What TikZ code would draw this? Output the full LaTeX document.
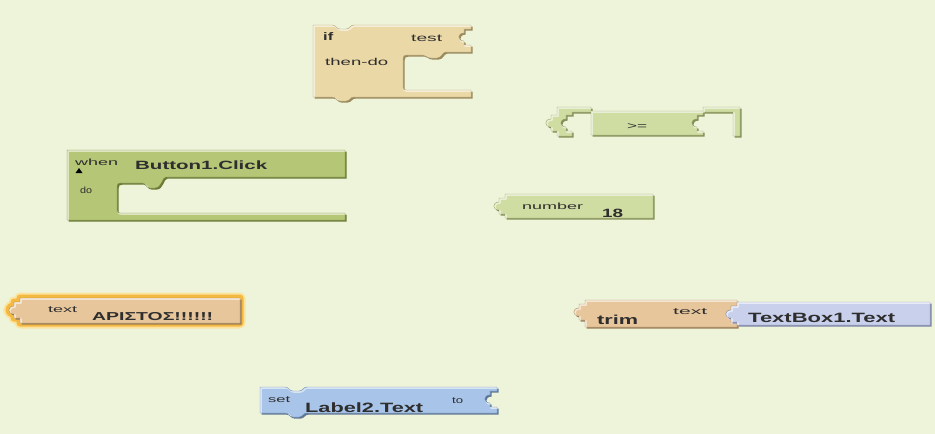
\documentclass[tikz,border=0pt]{standalone}
\usepackage{graphicx}
\usepackage{fontspec}
\setmainfont{Liberation Sans}

% block colours
\definecolor{canvas}{HTML}{EEF4DA}
\definecolor{ctrlfill}{HTML}{EBD8A7}
\definecolor{ctrldark}{HTML}{9A8A5D}
\definecolor{evfill}{HTML}{B5C676}
\definecolor{evdark}{HTML}{6B7A35}
\definecolor{mathfill}{HTML}{CFDCA2}
\definecolor{mathdark}{HTML}{838F55}
\definecolor{txtfill}{HTML}{E8C69C}
\definecolor{txtdark}{HTML}{9B7D55}
\definecolor{propfill}{HTML}{C9D0EC}
\definecolor{propdark}{HTML}{7C84A6}
\definecolor{setfill}{HTML}{A8C4E8}
\definecolor{setdark}{HTML}{5F7898}
\definecolor{glowin}{HTML}{F4B941}
\definecolor{glowout}{HTML}{FBE3A0}
\definecolor{labeltext}{HTML}{2E2E2E}

% text stretched horizontally to a given width: width, size, text
\newcommand\wtext[3]{\resizebox{#1pt}{\height}{\fontsize{#2}{#2}\selectfont #3}}

% a bevelled block: outline path, fill colour, edge colour
\newcommand\drawblock[3]{%
  \fill[#3, shift={(1.6,1.6)}] #1;
  \fill[#2] #1;
  \begin{scope}
    \clip #1;
    \draw[white, opacity=0.55, line width=1.6pt, shift={(1,1)}] #1;
  \end{scope}
  \draw[#3, line width=0.4pt, opacity=0.7] #1;
}

\tikzset{
  lbl/.style={anchor=base west, inner sep=0pt, text=labeltext},
}

\begin{document}
\begin{tikzpicture}[x=1pt, y=-1pt, line join=round]
\useasboundingbox (0,0) rectangle (935,434);
\fill[canvas] (0,0) rectangle (935,434);

% ---- if / then-do
\drawblock{(313,25) -- (332,25) .. controls (336,25) and (336,29) .. (340,29) -- (346,29) .. controls (350,29) and (350,25) .. (354,25)
  -- (471,25) -- (471,29) -- (464,29) -- (464,33) .. controls (457,33) and (457,41) .. (464,41) -- (464,45) -- (471,45)
  -- (471,52) -- (446,52) .. controls (442,52) and (442,58) .. (437,58) -- (431,58) .. controls (427,58) and (426,55) .. (423,55)
  -- (407,55) .. controls (404,55) and (403,56) .. (403,59) -- (403,87) .. controls (403,89) and (404,90) .. (406,90)
  -- (471,90) -- (471,97) -- (354,97) .. controls (350,97) and (350,101) .. (346,101) -- (340,101) .. controls (336,101) and (336,97) .. (332,97)
  -- (313,97) -- cycle}{ctrlfill}{ctrldark}
\node[lbl] (kif) at (323,40) {\wtext{10}{11}{\bfseries if}};
\node[lbl] (ktest) at (411,41) {\wtext{31}{10}{test}};
\node[lbl] (kthen) at (325,65) {\wtext{63}{10}{then-do}};

% ---- comparison >=
\drawblock{(557,107) -- (591,107) -- (591,111) -- (703,111) -- (703,107) -- (740,107) -- (740,136) -- (733,136) -- (733,112)
  -- (703,112) -- (703,115) -- (697,115) -- (697,119) .. controls (690,119) and (690,127) .. (697,127) -- (697,131) -- (703,131)
  -- (703,135) -- (591,135) -- (591,112) -- (572,112) -- (572,115) -- (566,115) -- (566,119) .. controls (559,119) and (559,127) .. (566,127)
  -- (566,131) -- (572,131) -- (572,136) -- (557,136) -- (557,131) -- (551,131) -- (551,127) .. controls (544,127) and (544,119) .. (551,119)
  -- (551,115) -- (557,115) -- cycle}{mathfill}{mathdark}
\node[lbl] (kge) at (627,129) {\wtext{20}{10}{>=}};

% ---- when Button1.Click do
\drawblock{(67,150) -- (345,150) -- (345,177) -- (166,177) .. controls (162,177) and (162,188) .. (155,188) -- (150,188)
  .. controls (146,188) and (146,183) .. (142,183) -- (121,183) .. controls (118,183) and (117,184) .. (117,187) -- (117,210)
  .. controls (117,212) and (118,213) .. (120,213) -- (345,213) -- (345,220) -- (67,220) -- cycle}{evfill}{evdark}
\node[lbl] (kwhen) at (75,165) {\wtext{43}{9}{when}};
\fill[black] (75.5,173) -- (82.5,173) -- (79,168) -- cycle;
\node[lbl] (kbtn) at (135,169) {\wtext{132}{12}{\bfseries Button1.Click}};
\node[lbl] (kdo) at (80,193) {\wtext{12}{9}{do}};

% ---- number 18
\drawblock{(505,194) -- (653,194) -- (653,218) -- (505,218) -- (505,214) -- (499,214) -- (499,210) .. controls (492,210) and (492,202) .. (499,202)
  -- (499,198) -- (505,198) -- cycle}{mathfill}{mathdark}
\node[lbl] (knum) at (522,209) {\wtext{61}{9}{number}};
\node[lbl] (k18) at (602,217) {\wtext{21}{12}{\bfseries 18}};

% ---- selected text block (highlighted)
\draw[glowout, line width=11pt] (20,298) -- (240,298) -- (240,323) -- (20,323) -- (20,318) -- (14,318) -- (14,314) .. controls (7,314) and (7,306) .. (14,306) -- (14,302) -- (20,302) -- cycle;
\draw[glowin, line width=7pt] (20,298) -- (240,298) -- (240,323) -- (20,323) -- (20,318) -- (14,318) -- (14,314) .. controls (7,314) and (7,306) .. (14,306) -- (14,302) -- (20,302) -- cycle;
\drawblock{(20,298) -- (240,298) -- (240,323) -- (20,323) -- (20,318) -- (14,318) -- (14,314) .. controls (7,314) and (7,306) .. (14,306)
  -- (14,302) -- (20,302) -- cycle}{txtfill}{txtdark}
\node[lbl] (ktext) at (48,312) {\wtext{29}{9}{text}};
\node[lbl] (kword) at (92,320) {\wtext{121}{11.5}{\bfseries ΑΡΙΣΤΟΣ!!!!!!}};

% ---- trim with TextBox1.Text plugged in
\drawblock{(585,300) -- (737,300) -- (737,306) -- (731,306) -- (731,310) .. controls (724,310) and (724,318) .. (731,318) -- (731,322)
  -- (737,322) -- (737,327) -- (585,327) -- (585,320) -- (579,320) -- (579,316) .. controls (572,316) and (572,308) .. (579,308)
  -- (579,304) -- (585,304) -- cycle}{txtfill}{txtdark}
\node[lbl] (ktrim) at (597,324) {\wtext{41}{13}{\bfseries trim}};
\node[lbl] (ktext2) at (673,314) {\wtext{34}{9}{text}};
\drawblock{(737,302) -- (930,302) -- (930,325) -- (737,325) -- (737,322) -- (731,322) -- (731,318) .. controls (724,318) and (724,310) .. (731,310)
  -- (731,306) -- (737,306) -- cycle}{propfill}{propdark}
\node[lbl] (ktb) at (748,322) {\wtext{147}{13.5}{\bfseries TextBox1.Text}};

% ---- set Label2.Text to
\drawblock{(260,387) -- (285,387) .. controls (289,387) and (289,391) .. (293,391) -- (299,391) .. controls (303,391) and (303,387) .. (307,387)
  -- (497,387) -- (497,391) -- (490,391) -- (490,395) .. controls (483,395) and (483,403) .. (490,403) -- (490,407) -- (497,407)
  -- (497,413) -- (307,413) .. controls (303,413) and (303,417) .. (299,417) -- (293,417) .. controls (289,417) and (289,413) .. (285,413)
  -- (260,413) -- cycle}{setfill}{setdark}
\node[lbl] (kset) at (268,402) {\wtext{22}{9}{set}};
\node[lbl] (klabel) at (305,412) {\wtext{118}{13.5}{\bfseries Label2.Text}};
\node[lbl] (kto) at (452,403) {\wtext{11}{9}{to}};

\end{tikzpicture}
\end{document}
